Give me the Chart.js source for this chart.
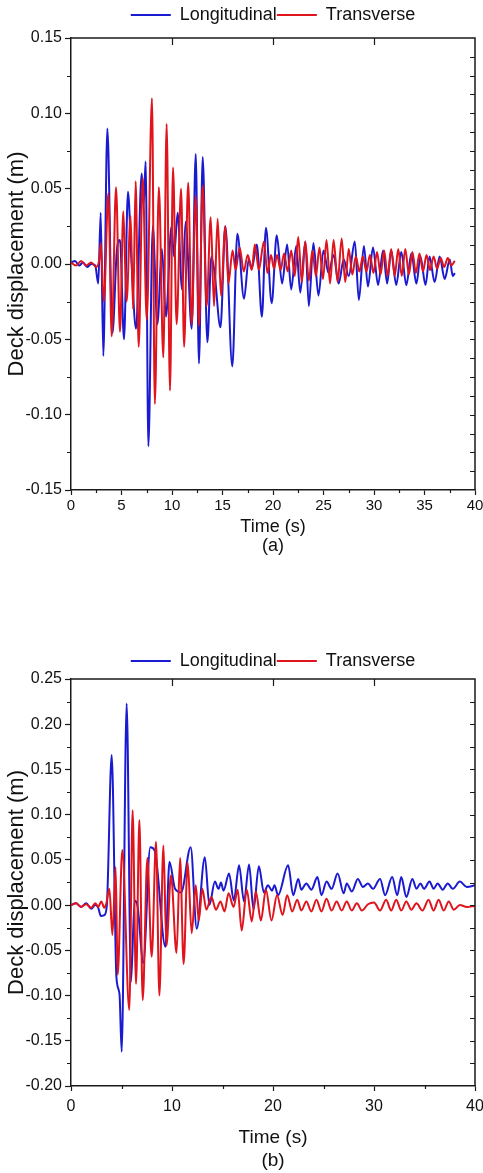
<!DOCTYPE html>
<html>
<head>
<meta charset="utf-8">
<script src="https://cdn.jsdelivr.net/npm/chart.js@4.4.1/dist/chart.umd.min.js"></script>
<style>
  html, body { margin: 0; padding: 0; background: #fff; }
  body { width: 483px; height: 1173px; position: relative; overflow: hidden; }
  canvas { position: absolute; left: 0; }
  #chartA { top: 0; }
  #chartB { top: 620px; }
</style>
</head>
<body>
<canvas id="chartA" width="483" height="560"></canvas>
<canvas id="chartB" width="483" height="553"></canvas>
<script>
const FONT = "'Liberation Sans', Arial, sans-serif";
const INK = "#111";

const seriesNames = ["Longitudinal", "Transverse"];
const seriesColors = ["#1a1ad0", "#e0141c"];
const captions = ["(a)", "(b)"];
const xRange = [0, 40];
const yRangeA = [-0.15, 0.15];
const yRangeB = [-0.20, 0.25];

// panel (a): [time s, displacement m], peaks and troughs
const longA = [
  [0, 0.001], [0.4, 0.002], [0.8, -0.001], [1.2, 0.001], [1.6, -0.002], [2.0, 0.0], [2.4, -0.001],
  [2.7, -0.013], [2.94, 0.034], [3.2, -0.061], [3.6, 0.090], [4.1, -0.046], [4.55, 0.010], [4.85, 0.016],
  [5.25, -0.050], [5.64, 0.048], [6.0, 0.0], [6.44, -0.043], [7.0, 0.060], [7.2, 0.040], [7.39, 0.068],
  [7.66, -0.121], [8.1, 0.025], [8.55, -0.040], [9.0, 0.010], [9.4, -0.035], [9.95, 0.025], [10.2, 0.005],
  [10.56, 0.034], [11.0, -0.017], [11.35, 0.028], [11.95, -0.043], [12.35, 0.073], [12.67, -0.066],
  [13.04, 0.071], [13.5, -0.052], [13.9, 0.005], [14.2, -0.005], [14.8, -0.042], [15.28, 0.025],
  [15.97, -0.068], [16.47, 0.020], [17.13, -0.023], [17.6, 0.003], [17.9, -0.003], [18.4, 0.013],
  [18.9, -0.035], [19.3, 0.024], [19.87, -0.026], [20.37, 0.019], [20.9, -0.013], [21.4, 0.013],
  [21.8, -0.017], [22.3, 0.012], [22.7, -0.019], [23.2, 0.015], [23.55, -0.028], [24.0, 0.014],
  [24.5, -0.021], [25.0, 0.009], [25.5, -0.006], [26.0, 0.006], [26.5, -0.013], [27.0, 0.003],
  [27.5, -0.008], [28.1, 0.015], [28.5, -0.024], [29.0, 0.012], [29.4, -0.015], [29.9, 0.011],
  [30.4, -0.014], [30.9, 0.009], [31.3, -0.013], [31.7, 0.009], [32.2, -0.014], [32.7, 0.008],
  [33.2, -0.014], [33.7, 0.007], [34.2, -0.013], [34.6, 0.005], [35.1, -0.014], [35.5, 0.005],
  [36.0, -0.012], [36.5, 0.005], [37.0, -0.010], [37.5, 0.003], [37.8, -0.008], [38.0, -0.006]
];
const transA = [
  [0, 0.001], [0.5, -0.001], [1.0, 0.002], [1.5, -0.001], [2.0, 0.001], [2.5, -0.002], [2.8, 0.003],
  [2.94, 0.014], [3.25, -0.025], [3.7, 0.047], [4.03, -0.048], [4.46, 0.051], [4.85, -0.045],
  [5.18, 0.035], [5.5, -0.025], [5.9, 0.032], [6.15, -0.030], [6.4, 0.055], [6.7, -0.055], [7.1, 0.057],
  [7.5, -0.037], [8.02, 0.110], [8.3, -0.093], [8.7, 0.051], [9.14, -0.062], [9.47, 0.093], [9.8, -0.084],
  [10.1, 0.064], [10.46, -0.040], [10.9, 0.050], [11.2, -0.055], [11.6, 0.054], [11.95, -0.040],
  [12.35, 0.045], [12.67, -0.041], [13.04, 0.052], [13.43, -0.028], [13.83, 0.031], [14.16, -0.028],
  [14.52, 0.030], [14.85, -0.021], [15.28, 0.025], [15.58, -0.013], [16.0, 0.009], [16.3, -0.004],
  [16.7, 0.011], [17.1, -0.005], [17.5, 0.006], [17.9, -0.004], [18.2, 0.013], [18.6, -0.004],
  [19.1, 0.015], [19.45, -0.006], [19.8, 0.006], [20.1, -0.003], [20.4, 0.006], [20.75, -0.004],
  [21.1, 0.007], [21.45, -0.005], [21.8, 0.009], [22.15, -0.008], [22.5, 0.018], [22.85, -0.012],
  [23.2, 0.015], [23.55, -0.011], [23.9, 0.009], [24.25, -0.008], [24.6, 0.011], [24.95, -0.010],
  [25.3, 0.016], [25.65, -0.013], [26.0, 0.016], [26.4, -0.012], [26.8, 0.017], [27.15, -0.012],
  [27.5, 0.010], [27.85, -0.007], [28.2, 0.005], [28.55, -0.005], [28.9, 0.005], [29.25, -0.005],
  [29.6, 0.006], [29.95, -0.006], [30.3, 0.008], [30.65, -0.007], [31.0, 0.009], [31.35, -0.008],
  [31.7, 0.010], [32.05, -0.008], [32.4, 0.010], [32.75, -0.008], [33.1, 0.010], [33.45, -0.007],
  [33.8, 0.008], [34.15, -0.006], [34.5, 0.007], [34.85, -0.005], [35.2, 0.006], [35.55, -0.004],
  [35.9, 0.005], [36.25, -0.003], [36.6, 0.004], [36.95, -0.002], [37.3, 0.004], [37.65, -0.001],
  [38.0, 0.002]
];

// panel (b)
const longB = [
  [0, 0.0], [0.5, 0.002], [1.0, -0.002], [1.5, 0.002], [2.0, -0.004], [2.4, 0.0], [2.7, -0.003],
  [2.95, -0.012], [3.3, -0.011], [3.55, 0.0], [4.03, 0.166], [4.5, -0.080], [4.8, -0.098],
  [5.02, -0.162], [5.51, 0.223], [5.94, -0.085], [6.3, 0.005], [6.6, -0.002], [7.16, -0.064],
  [7.85, 0.064], [8.3, 0.060], [9.35, -0.046], [9.75, 0.048], [10.3, 0.018], [10.9, 0.014],
  [11.85, 0.064], [12.45, -0.026], [13.25, 0.053], [13.7, 0.0], [14.25, 0.026], [14.6, 0.018],
  [14.85, 0.025], [15.1, 0.016], [15.65, 0.035], [16.12, 0.005], [16.64, 0.044], [17.13, 0.004],
  [17.63, 0.045], [18.07, -0.005], [18.6, 0.043], [19.1, 0.014], [19.5, 0.022], [19.9, 0.016],
  [20.15, 0.022], [20.5, 0.011], [21.5, 0.044], [22.0, 0.011], [22.5, 0.029], [22.8, 0.017],
  [23.3, 0.024], [23.8, 0.017], [24.4, 0.031], [24.8, 0.011], [25.3, 0.026], [25.8, 0.018],
  [26.4, 0.035], [27.0, 0.013], [27.3, 0.024], [27.8, 0.015], [28.4, 0.029], [28.9, 0.020],
  [29.4, 0.024], [29.9, 0.018], [30.6, 0.029], [31.1, 0.011], [31.8, 0.031], [32.3, 0.011],
  [32.7, 0.031], [33.2, 0.009], [33.8, 0.029], [34.2, 0.018], [34.6, 0.024], [34.95, 0.018],
  [35.5, 0.026], [35.9, 0.018], [36.3, 0.024], [36.8, 0.017], [37.3, 0.024], [37.8, 0.018],
  [38.5, 0.026], [39.2, 0.020], [40, 0.022]
];
const transB = [
  [0, 0.0], [0.5, 0.002], [1.0, -0.002], [1.5, 0.001], [2.0, -0.003], [2.4, 0.002], [2.7, -0.002],
  [3.0, 0.004], [3.3, -0.003], [3.5, 0.002], [3.8, 0.018], [4.1, -0.033], [4.42, 0.042], [4.62, -0.077],
  [5.08, 0.061], [5.77, -0.116], [6.1, 0.105], [6.44, -0.087], [6.77, 0.094], [7.1, -0.105],
  [7.56, 0.052], [7.99, -0.057], [8.42, 0.070], [8.75, -0.100], [9.15, 0.066], [9.45, -0.045],
  [9.9, 0.033], [10.45, -0.053], [10.8, 0.052], [11.15, -0.065], [11.55, 0.047], [11.95, -0.031],
  [12.35, 0.022], [12.65, -0.017], [13.0, 0.018], [13.4, -0.005], [13.9, 0.009], [14.35, -0.005],
  [14.8, 0.004], [15.2, -0.007], [15.6, 0.013], [16.1, -0.002], [16.5, 0.017], [16.9, -0.028],
  [17.4, 0.017], [17.9, -0.018], [18.3, 0.015], [18.8, -0.017], [19.3, 0.017], [19.85, -0.017],
  [20.4, 0.011], [20.95, -0.011], [21.4, 0.011], [21.9, -0.007], [22.4, 0.006], [22.8, -0.006],
  [23.3, 0.004], [23.8, -0.007], [24.3, 0.006], [24.8, -0.007], [25.3, 0.007], [25.8, -0.006],
  [26.3, 0.004], [26.8, -0.006], [27.3, 0.004], [27.8, -0.006], [28.3, 0.002], [28.8, -0.006],
  [29.4, 0.001], [30.0, 0.003], [30.6, -0.006], [31.2, 0.006], [31.7, -0.006], [32.2, 0.006],
  [32.7, -0.006], [33.2, 0.004], [33.7, -0.005], [34.2, 0.002], [34.8, -0.006], [35.4, 0.006],
  [35.9, -0.006], [36.4, 0.006], [36.9, -0.006], [37.4, 0.004], [37.9, -0.005], [38.5, 0.0],
  [39.2, -0.002], [40, -0.001]
];

// box around the plot, inward ticks on top/right, short minor ticks bottom/left
const framePlugin = {
  id: "frame",
  afterDatasetsDraw(chart, args, opts) {
    const { ctx, chartArea: a, scales: { x, y } } = chart;
    ctx.save();
    ctx.strokeStyle = "#1a1a1a";
    ctx.lineWidth = 1.5;
    ctx.beginPath();
    ctx.moveTo(a.left, a.top);
    ctx.lineTo(a.right, a.top);
    ctx.lineTo(a.right, a.bottom);
    ctx.stroke();

    ctx.lineWidth = 1.2;
    ctx.beginPath();
    for (let v = opts.topStep; v < x.max - 1e-9; v += opts.topStep) {
      const px = Math.round(x.getPixelForValue(v)) + 0.5;
      ctx.moveTo(px, a.top);
      ctx.lineTo(px, a.top + 7);
    }
    const nr = Math.round((y.max - y.min) / opts.rightStep);
    for (let i = 1; i < nr; i++) {
      const py = Math.round(y.getPixelForValue(y.min + i * opts.rightStep)) + 0.5;
      ctx.moveTo(a.right, py);
      ctx.lineTo(a.right - 5, py);
    }
    for (let v = x.min + opts.xMinor; v < x.max; v += opts.xMinor * 2) {
      const px = Math.round(x.getPixelForValue(v)) + 0.5;
      ctx.moveTo(px, a.bottom);
      ctx.lineTo(px, a.bottom + 3);
    }
    for (let v = y.min + opts.yMinor; v < y.max; v += opts.yMinor * 2) {
      const py = Math.round(y.getPixelForValue(v)) + 0.5;
      ctx.moveTo(a.left, py);
      ctx.lineTo(a.left - 4, py);
    }
    ctx.stroke();
    ctx.restore();
  }
};

// Chart.js fixes the legend-to-plot gap; this nudges it
const legendGap = {
  id: "legendGap",
  afterInit(chart, args, opts) {
    const lg = chart.legend;
    if (!lg) return;
    const fit = lg.fit;
    lg.fit = function () {
      fit.apply(this, arguments);
      this.height += opts.extra;
    };
  }
};

function toPoints(pairs) {
  return pairs.map(([t, v]) => ({ x: t, y: v }));
}

function makePanel(canvasId, p) {
  const ctx = document.getElementById(canvasId);
  return new Chart(ctx, {
    type: "line",
    data: {
      datasets: [
        {
          label: seriesNames[0],
          data: toPoints(p.longi),
          borderColor: seriesColors[0],
          backgroundColor: seriesColors[0],
          borderWidth: 2,
          pointRadius: 0,
          cubicInterpolationMode: "monotone",
          order: 1
        },
        {
          label: seriesNames[1],
          data: toPoints(p.trans),
          borderColor: seriesColors[1],
          backgroundColor: seriesColors[1],
          borderWidth: 2,
          pointRadius: 0,
          cubicInterpolationMode: "monotone",
          order: 0
        }
      ]
    },
    options: {
      responsive: false,
      animation: false,
      devicePixelRatio: 1,
      events: [],
      layout: { padding: { top: p.padTop, bottom: p.padBottom, left: 0, right: 8 } },
      plugins: {
        tooltip: { enabled: false },
        legend: {
          position: "top",
          fullSize: false,
          labels: {
            usePointStyle: true,
            pointStyle: "line",
            pointStyleWidth: 40,
            padding: 0,
            color: INK,
            font: { family: FONT, size: 18 },
            sort: (a, b) => a.datasetIndex - b.datasetIndex
          }
        },
        legendGap: { extra: p.legendExtra },
        frame: { topStep: 10, rightStep: p.rightStep, xMinor: p.xStep / 2, yMinor: 0.025 }
      },
      scales: {
        x: {
          type: "linear",
          min: xRange[0],
          max: xRange[1],
          ticks: {
            stepSize: p.xStep,
            autoSkip: false,
            maxRotation: 0,
            padding: p.xLabelPad,
            color: INK,
            font: { family: FONT, size: p.xFont }
          },
          grid: { drawOnChartArea: false, tickLength: 5, tickColor: "#1a1a1a", tickWidth: 1.2 },
          border: { color: "#1a1a1a", width: 1.5 },
          title: {
            display: true,
            text: ["Time (s)", p.caption],
            color: INK,
            font: { family: FONT, size: p.titleFont, lineHeight: p.titleLine },
            padding: { top: 0, bottom: 0 }
          },
          afterFit: s => {
            s.height = p.xHeight;
            s.paddingLeft = 0;
            s.paddingRight = 0;
          }
        },
        y: {
          min: p.yRange[0],
          max: p.yRange[1],
          ticks: {
            stepSize: 0.05,
            padding: 3,
            color: INK,
            font: { family: FONT, size: 16 },
            callback: v => v.toFixed(2)
          },
          grid: { drawOnChartArea: false, tickLength: 6, tickColor: "#1a1a1a", tickWidth: 1.2 },
          border: { color: "#1a1a1a", width: 1.5 },
          title: {
            display: true,
            text: "Deck displacement (m)",
            color: INK,
            font: { family: FONT, size: 22 },
            padding: { top: 4, bottom: 0 }
          },
          afterFit: s => { s.width = 71; }
        }
      }
    },
    plugins: [framePlugin, legendGap]
  });
}

makePanel("chartA", {
  longi: longA, trans: transA, yRange: yRangeA, caption: captions[0],
  xStep: 5, rightStep: 0.0125, padTop: 6, padBottom: 5, legendExtra: 4,
  xHeight: 65, xLabelPad: 2, xFont: 15, titleFont: 18, titleLine: 1.05
});
makePanel("chartB", {
  longi: longB, trans: transB, yRange: yRangeB, caption: captions[1],
  xStep: 10, rightStep: 0.025, padTop: 32, padBottom: 0, legendExtra: -1,
  xHeight: 87, xLabelPad: 6, xFont: 16, titleFont: 19, titleLine: 1.25
});
</script>
</body>
</html>
